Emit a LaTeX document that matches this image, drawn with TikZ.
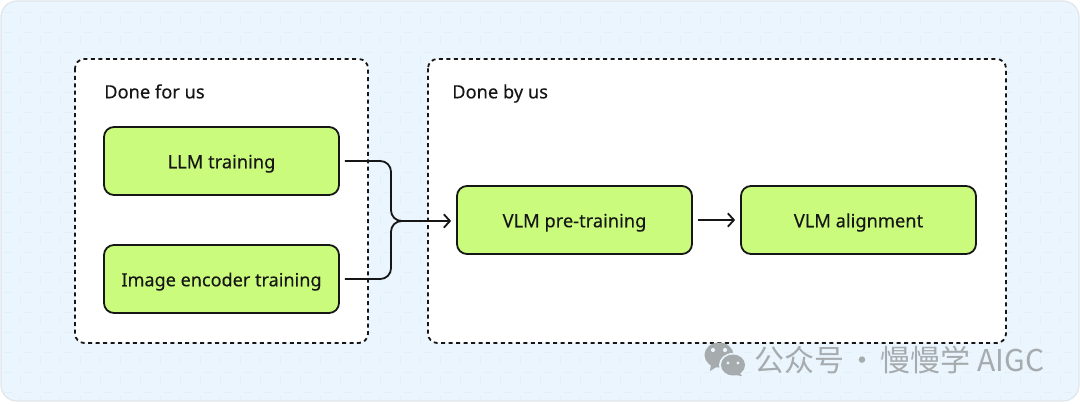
\documentclass[tikz,border=0pt]{standalone}
\usepackage{fontspec}
\setmainfont{Noto Sans}[FakeBold=0.25]
\newfontfamily\cjk{Noto Sans CJK SC}
\usetikzlibrary{arrows.meta}
\definecolor{bgblue}{HTML}{EAF5FE}
\definecolor{gridblue}{HTML}{E2EEF8}
\definecolor{bordergray}{HTML}{E2E6EA}
\definecolor{limefill}{HTML}{CBFB7C}
\definecolor{inkc}{HTML}{161616}
\definecolor{wmgray}{HTML}{A6ABAE}
\newcommand{\midtext}[1]{\bfseries #1}
\tikzset{
  groupbox/.style={draw=inkc,fill=white,line width=1.35pt,dash pattern=on 3pt off 2.6pt,rounded corners=7pt},
  stagebox/.style={draw=inkc,fill=limefill,line width=1.35pt,rounded corners=7.5pt,inner sep=0pt,minimum width=176.25pt,minimum height=51pt,font=\fontsize{13.7}{16}\selectfont,text=inkc,text height=11.4pt,text depth=0.5pt},
  grouplabel/.style={font=\fontsize{13.7}{16}\selectfont,text=inkc,anchor=west,inner sep=0pt,text height=10pt,text depth=0.5pt},
  flow/.style={draw=inkc,line width=1.35pt,rounded corners=8pt,shorten <=3.75pt},
  flowhead/.style={flow,shorten >=3.75pt,-{Straight Barb[length=4.5pt,width=10pt,line width=1.35pt]}},
}
\begin{document}
\begin{tikzpicture}[x=0.75pt,y=-0.75pt]
\useasboundingbox (0,0) rectangle (1080,403);
\fill[white] (0,0) rectangle (1080,403);
\begin{scope}
\clip[rounded corners=12pt] (1,1) rectangle (1079,401);
\fill[bgblue] (0,0) rectangle (1080,403);
\foreach \gx in {20,40,...,1060} \draw[gridblue,line width=0.6pt,dash pattern=on 6pt off 9pt,dash phase=0pt] (\gx,16) -- (\gx,403);
\foreach \gy in {12,32,...,392} \draw[gridblue,line width=0.6pt,dash pattern=on 6pt off 9pt,dash phase=0pt] (4,\gy) -- (1080,\gy);
\end{scope}
\draw[bordergray,line width=0.9pt,rounded corners=12pt] (1,1) rectangle (1079,401);
\draw[groupbox] (75,59) rectangle (368,343);
\draw[groupbox] (428,59) rectangle (1006,343);
\node[grouplabel] (donefor) at (104,92) {\midtext{Done for us}};
\node[grouplabel] (doneby) at (452,92) {\midtext{Done by us}};
\node[stagebox] (llm) at (221.5,161) {\midtext{LLM training}};
\node[stagebox,font=\fontsize{13.55}{16}\selectfont] (image) at (221.5,279) {\midtext{Image encoder training}};
\node[stagebox] (pre) at (574.5,220) {\midtext{VLM pre-training}};
\node[stagebox] (align) at (858.5,220) {\midtext{VLM alignment}};
\coordinate (join) at (391,221);
\draw[flow] (llm.east) -- (llm.east -| join) -- (join) -- ++(12,0);
\draw[flow] (image.east) -- (image.east -| join) -- (join) -- ++(12,0);
\draw[flowhead,rounded corners=0pt,shorten <=0pt] (join) ++(6,0) coordinate (joinend) (joinend) -- (joinend -| pre.west);
\draw[flowhead] (pre.east) -- (align.west);
% watermark
\begin{scope}[wmgray]
\fill (719,355) ellipse [x radius=14.5,y radius=12.5];
\fill (711,364) -- (710,371) -- (718,366) -- cycle;
\fill[bgblue] (733,365) ellipse [x radius=14,y radius=12];
\fill (733,365) ellipse [x radius=12,y radius=10.5];
\fill (739,372) -- (742,376) -- (735,375) -- cycle;
\fill[bgblue] (713,350) circle (2.1) (725,350) circle (2.1) (728,363) circle (1.7) (738,363) circle (1.7);
\end{scope}
\node[anchor=west,inner sep=0pt,text=wmgray,font=\cjk\fontsize{22.5}{26}\selectfont] (mark) at (754,360) {公众号\hspace{2.5pt}·\hspace{2.5pt}慢慢学 AIGC};
\end{tikzpicture}
\end{document}
